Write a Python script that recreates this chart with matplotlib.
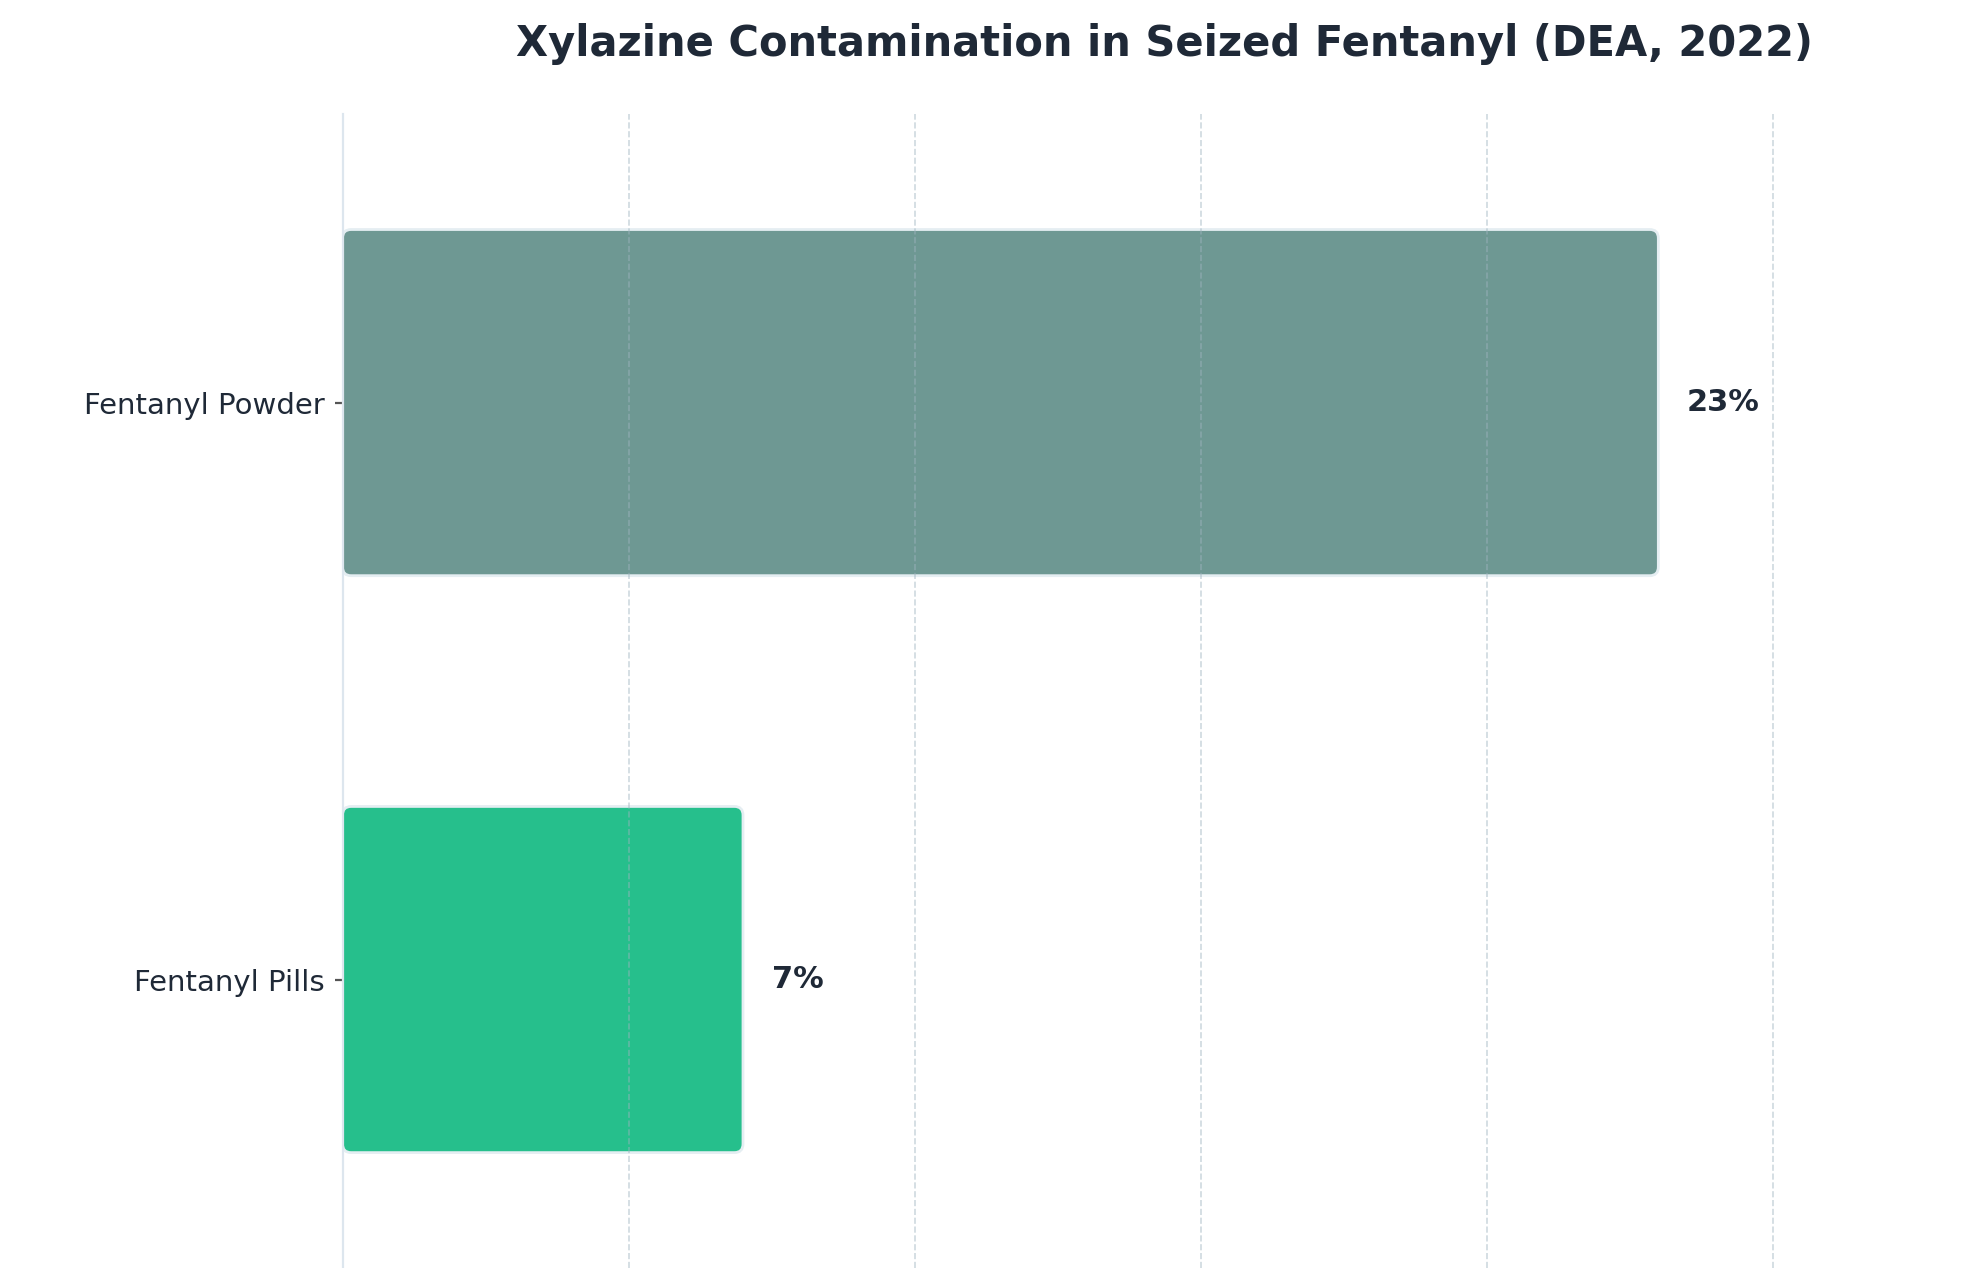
import matplotlib
matplotlib.use("Agg")
import matplotlib.pyplot as plt
from matplotlib.patches import FancyBboxPatch

categories = ["Fentanyl Powder", "Fentanyl Pills"]
values = [23, 7]
colors = ["#6e9893", "#26bf8c"]
labels = ["23%", "7%"]

fig = plt.figure(figsize=(9.9, 6.34), dpi=200)
ax = fig.add_axes([0.173, 0.0, 0.809, 0.91])
ax.set_xlim(0, 28)
ax.set_ylim(1.5, -0.5)
h = 0.6
for i, (v, c, l) in enumerate(zip(values, colors, labels)):
    p = FancyBboxPatch((0, i - h / 2), v, h, boxstyle="round,pad=0,rounding_size=0.15",
                       mutation_aspect=0.1, facecolor=c, edgecolor="#e5eef2", linewidth=1, zorder=2)
    ax.add_patch(p)
    ax.text(v + 0.5, i, l, va="center", ha="left", fontsize=11, fontweight="bold", color="#1f2937")
for x in [5, 10, 15, 20, 25]:
    ax.axvline(x, color="#9fb3bf", linestyle="--", linewidth=0.6, alpha=0.5, zorder=3)
ax.set_yticks(range(len(categories)))
ax.set_yticklabels(categories, fontsize=10.5, color="#1f2937")
ax.set_xticks([])
for s in ["top", "right", "bottom"]:
    ax.spines[s].set_visible(False)
ax.spines["left"].set_color("#dde6ee")
ax.tick_params(axis="y", length=3, color="#555555")
fig.text(0.588, 0.965, "Xylazine Contamination in Seized Fentanyl (DEA, 2022)", ha="center", va="center",
         fontsize=15, fontweight="bold", color="#1f2937")
fig.savefig("out.png", dpi=200)
